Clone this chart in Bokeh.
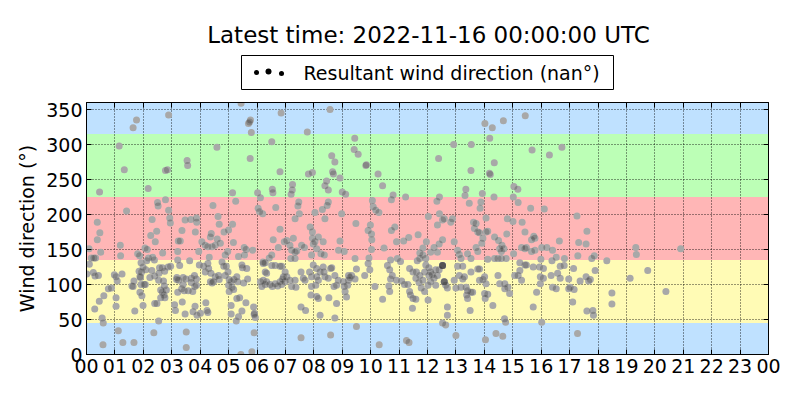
from bokeh.plotting import figure
from bokeh.layouts import column
from bokeh.models import (BoxAnnotation, FixedTicker, LinearAxis, Range1d,
                          ColumnDataSource, CustomJSTickFormatter)
from bokeh.core.properties import value
from bokeh.embed import file_html
from bokeh.resources import INLINE

# ---- data: (hour of day, wind direction in degrees) ----
obs_00_04 = [(1.76,335),(1.64,324),(2.89,342),(1.15,298),(1.33,264),(2.78,263),(2.85,264),(3.54,277),(3.56,270),(0.46,232),(2.17,237),(2.50,217),(2.52,212),(2.78,221),(1.41,205),(2.89,206),(2.93,195),(2.95,188),(0.38,189),(0.47,174),(0.38,164),(2.31,193),(2.47,176),(2.26,170),(2.42,161),(3.47,192),(3.67,193),(3.87,195),(3.88,189),(3.36,177),(3.83,175),(3.23,162),(3.30,162),(1.19,156),(2.06,152),(2.14,150),(1.80,144),(1.87,141),(2.68,145),(3.21,147),(0.50,146),(0.09,151),(1.20,141),(0.26,138),(0.32,138),(0.17,138),(2.39,135),(2.18,138),(2.33,139),(2.12,134),(3.21,135),(3.63,134),(3.28,127),(2.67,124),(2.96,126),(2.87,125),(1.92,131),(1.99,125),(2.09,121),(0.10,129),(0.24,117),(0.01,115),(0.30,112),(0.42,113),(0.98,114),(1.04,111),(1.08,105),(1.85,119),(1.94,118),(1.88,111),(2.30,120),(2.23,110),(2.40,112),(2.57,124),(2.75,119),(2.55,116),(1.90,110),(1.92,100),(2.03,100),(2.07,100),(1.60,98),(1.64,97),(1.67,105),(2.54,106),(2.71,105),(2.74,98),(2.61,92),(2.67,89),(2.81,92),(2.73,85),(2.76,81),(2.61,81),(2.48,73),(2.40,73),(1.99,70),(1.70,62),(2.54,48),(3.17,107),(3.24,106),(3.40,100),(3.35,94),(3.44,91),(3.58,91),(3.74,90),(3.18,110),(3.40,110),(3.50,108),(3.69,109),(3.80,113),(3.87,108),(3.87,99),(3.81,97),(3.69,103),(3.21,89),(3.10,71),(3.13,63),(3.37,75),(3.47,58),(3.75,61),(3.82,69),(3.89,56),(0.88,95),(0.77,94),(0.61,84),(0.45,76),(0.29,65),(0.55,52),(0.59,45),(1.04,69),(1.04,81),(1.88,89),(1.95,84),(1.25,115),(1.12,34),(2.37,31),(3.51,32),(0.58,14),(1.28,17),(1.67,17),(3.51,10)]

obs_04_08 = [(5.44,359),(5.70,330),(5.77,335),(5.74,332),(5.80,317),(6.85,345),(7.77,318),(4.59,296),(5.76,280),(6.52,304),(6.81,261),(7.81,258),(7.95,260),(5.14,231),(6.02,231),(6.54,236),(6.56,231),(7.25,243),(7.24,235),(7.20,229),(4.45,213),(5.25,219),(6.12,224),(6.04,209),(6.09,204),(6.20,201),(6.66,210),(7.47,218),(7.44,212),(7.49,201),(7.34,194),(4.63,197),(4.67,186),(4.84,175),(5.00,178),(5.14,186),(4.39,173),(4.36,168),(4.06,161),(4.18,156),(4.27,154),(4.42,154),(4.53,156),(4.60,165),(4.71,159),(5.17,160),(5.55,153),(5.62,150),(5.85,149),(6.57,164),(6.81,179),(6.75,153),(6.96,161),(7.05,163),(7.16,156),(7.28,166),(7.87,182),(7.95,175),(7.95,166),(7.57,156),(7.67,153),(7.98,158),(3.95,147),(4.97,147),(4.88,142),(5.35,140),(5.56,142),(6.52,142),(6.43,138),(6.21,132),(6.29,131),(7.22,149),(7.34,146),(7.40,148),(7.34,137),(7.19,137),(3.97,128),(4.12,126),(4.27,130),(4.32,139),(4.18,118),(4.30,123),(4.38,116),(4.53,111),(4.65,113),(4.67,107),(4.47,104),(4.36,104),(4.42,102),(4.77,132),(4.83,126),(4.92,126),(4.98,118),(4.88,113),(5.02,107),(5.09,104),(5.19,107),(5.29,111),(5.32,104),(5.47,128),(5.49,124),(5.64,123),(5.67,108),(5.53,102),(5.00,99),(5.12,96),(5.18,93),(5.02,90),(5.29,80),(5.39,81),(5.47,62),(5.61,74),(5.09,70),(5.09,58),(5.35,54),(5.27,48),(5.88,68),(5.91,59),(5.94,53),(5.90,57),(4.01,59),(4.20,74),(4.24,63),(4.27,60),(6.12,104),(6.22,106),(6.34,104),(6.46,100),(6.54,97),(6.64,101),(6.73,98),(6.81,104),(6.87,100),(6.29,100),(6.17,97),(6.22,130),(6.29,118),(6.34,116),(6.52,127),(6.64,127),(6.81,126),(6.87,126),(6.99,118),(7.05,111),(6.93,111),(6.90,108),(6.99,104),(7.16,106),(7.22,97),(7.34,106),(7.37,96),(7.55,118),(7.63,109),(7.69,106),(7.85,118),(7.92,111),(7.92,97),(7.90,85),(7.55,68),(7.71,63),(5.90,31),(7.55,24),(5.43,0),(5.82,4)]

obs_08_12 = [(8.57,350),(9.44,309),(9.42,293),(9.56,286),(8.63,284),(8.74,275),(9.85,271),(9.83,270),(10.26,258),(8.66,261),(8.69,258),(8.92,252),(8.45,248),(8.39,241),(8.51,235),(10.42,241),(9.00,232),(9.12,229),(10.79,228),(10.73,221),(11.23,225),(10.06,220),(10.09,211),(10.18,206),(10.29,203),(8.51,218),(8.47,213),(8.30,207),(8.04,203),(8.39,194),(8.98,201),(9.48,187),(9.99,185),(9.91,177),(10.03,172),(10.04,164),(10.73,177),(10.85,182),(10.91,161),(11.16,162),(11.34,167),(11.67,171),(12.03,197),(11.96,161),(11.84,152),(8.16,168),(8.04,161),(8.33,161),(8.92,162),(8.10,151),(8.25,144),(8.37,142),(7.92,142),(8.87,149),(9.07,147),(10.03,150),(10.47,152),(11.73,145),(11.84,142),(11.73,137),(11.64,134),(7.98,128),(8.10,123),(8.33,125),(8.22,118),(8.36,118),(8.39,111),(8.51,109),(8.59,123),(8.63,124),(8.10,111),(8.16,106),(8.07,99),(8.74,113),(8.86,106),(8.80,99),(8.71,97),(9.04,104),(9.07,97),(9.22,113),(9.27,110),(9.33,113),(9.45,108),(9.22,106),(9.19,99),(9.10,90),(9.15,82),(9.45,137),(9.50,122),(9.79,113),(9.91,130),(9.97,121),(9.94,138),(10.15,97),(10.59,127),(10.67,121),(10.70,135),(10.94,137),(11.05,133),(10.76,113),(10.70,108),(10.91,106),(10.64,98),(10.67,90),(10.42,79),(11.09,105),(11.19,100),(11.31,100),(11.37,90),(11.40,85),(11.49,80),(11.59,79),(11.47,66),(11.37,123),(11.49,118),(11.61,118),(11.73,113),(11.90,118),(11.84,106),(11.59,109),(11.70,103),(11.78,95),(11.90,90),(12.02,99),(12.02,78),(8.10,83),(8.16,80),(8.53,81),(8.80,73),(8.22,56),(8.74,52),(9.50,40),(8.59,28),(10.30,14),(11.26,20),(11.35,17)]

obs_12_16 = [(14.02,330),(14.28,324),(14.67,334),(15.44,341),(12.92,300),(13.54,300),(14.19,309),(15.68,292),(12.39,280),(14.35,274),(13.53,263),(14.18,259),(14.21,257),(13.35,236),(13.32,227),(13.93,230),(14.34,225),(15.04,240),(15.18,236),(15.02,225),(12.42,225),(12.33,219),(13.47,216),(13.88,218),(13.85,209),(14.06,195),(15.19,217),(15.63,209),(12.42,201),(12.35,185),(12.53,192),(12.59,194),(12.82,189),(12.88,194),(13.62,189),(13.71,187),(13.65,180),(13.77,175),(13.83,174),(14.06,175),(14.12,176),(13.95,166),(13.91,159),(14.81,194),(15.01,190),(15.33,189),(15.43,175),(15.74,169),(15.66,164),(15.78,166),(14.36,168),(14.50,163),(14.62,156),(14.54,151),(14.60,147),(14.69,151),(14.79,172),(15.31,153),(15.43,151),(15.48,153),(15.66,147),(15.78,149),(16.02,153),(15.99,136),(11.94,137),(12.11,146),(12.23,153),(12.35,146),(12.41,158),(12.53,164),(12.94,161),(13.06,149),(13.12,143),(13.18,137),(13.41,144),(13.53,137),(13.71,153),(13.77,147),(14.12,136),(14.36,137),(14.48,137),(14.60,137),(14.77,137),(15.03,144),(15.25,131),(11.94,128),(12.05,124),(12.11,118),(12.17,114),(12.29,121),(12.41,121),(12.53,127),(12.53,127),(12.53,127),(12.53,127),(12.35,113),(12.23,109),(12.05,113),(12.11,104),(12.59,104),(12.59,104),(12.59,104),(12.64,99),(12.70,95),(12.29,99),(13.06,126),(13.24,126),(13.12,113),(13.24,108),(13.30,111),(12.94,106),(13.00,95),(13.18,96),(13.36,96),(13.41,91),(13.53,89),(13.38,85),(13.41,80),(13.59,89),(13.53,118),(13.77,122),(13.83,122),(14.01,111),(13.95,107),(14.06,101),(13.83,106),(14.01,87),(14.12,86),(14.03,80),(14.30,70),(14.48,113),(14.54,101),(14.72,101),(14.83,96),(14.89,87),(14.72,94),(15.07,113),(15.25,120),(15.19,113),(15.43,128),(15.48,128),(15.31,106),(15.72,125),(15.94,125),(16.08,123),(16.08,109),(15.84,89),(15.72,68),(16.02,46),(12.70,68),(12.70,56),(12.53,45),(12.64,42),(13.50,63),(14.71,51),(14.75,46),(13.00,27),(14.04,21),(14.41,30),(14.65,26)]

obs_16_24 = [(16.73,296),(16.29,285),(16.11,208),(17.26,198),(17.61,176),(16.64,162),(17.32,160),(17.58,158),(16.20,153),(16.40,149),(16.53,139),(16.82,137),(17.29,141),(17.78,137),(17.87,141),(18.31,134),(19.33,153),(19.35,143),(16.38,134),(16.67,126),(16.81,127),(17.14,123),(17.90,120),(19.75,120),(15.97,111),(16.35,113),(16.58,116),(16.67,109),(16.97,108),(17.37,105),(17.67,105),(17.73,107),(17.58,111),(19.13,109),(16.40,96),(16.53,94),(16.97,94),(17.02,96),(17.16,93),(18.49,88),(17.11,75),(18.49,72),(15.97,101),(17.61,62),(17.82,63),(17.84,56),(17.28,30),(20.91,151),(20.39,90)]

title_text = "Latest time: 2022-11-16 00:00:00 UTC"
legend_text = "Resultant wind direction (nan°)"
y_axis_title = "Wind direction (°)"

sector_edges = [0, 45, 135, 225, 315, 360]
sector_colors = ["#bfe1ff", "#fffbb5", "#ffb6b6", "#bcffb6", "#bfe1ff"]

x_ticks = list(range(25))
x_tick_labels = ["00", "01", "02", "03", "04", "05", "06", "07", "08", "09", "10", "11",
                 "12", "13", "14", "15", "16", "17", "18", "19", "20", "21", "22", "23", "00"]
y_ticks = [0, 50, 100, 150, 200, 250, 300, 350]

all_obs = obs_00_04 + obs_04_08 + obs_08_12 + obs_12_16 + obs_16_24
src = ColumnDataSource(dict(hour=[o[0] for o in all_obs], direction=[o[1] for o in all_obs]))

FONT = "DejaVu Sans"
W = 784
HEAD_H = 92
FRAME_L, FRAME_R = 86, 768   # pixel extent of the plot frame (header frame is aligned to it)

# ---------------- header: title + legend (pixel-space figure) ----------------
head = figure(width=W, height=HEAD_H, output_backend="svg", toolbar_location=None,
              x_range=Range1d(FRAME_L, FRAME_R), y_range=Range1d(HEAD_H, 0),
              x_axis_type=None, y_axis_type=None,
              min_border=0, min_border_left=FRAME_L, min_border_right=W - FRAME_R,
              min_border_top=0, min_border_bottom=0,
              outline_line_color=None, background_fill_color="white",
              border_fill_color="white")
head.grid.visible = False
head.text(x=[428], y=[34], text=[title_text], text_align="center", text_baseline="middle",
          text_font=value(FONT), text_font_size=value("23px"), text_color="black")
head.quad(left=[241], right=[613], top=[55], bottom=[89], fill_color="white",
          line_color="black", line_width=1)
head.scatter(x=[256, 268, 281], y=[72, 71, 73], size=[5, 6, 5], fill_color="black",
             line_color=None)
head.text(x=[303], y=[72], text=[legend_text], text_align="left", text_baseline="middle",
          text_font=value(FONT), text_font_size=value("19px"), text_color="black")

# ---------------- main plot ----------------
p = figure(width=W, height=384 - HEAD_H, output_backend="svg", toolbar_location=None,
           x_range=Range1d(0, 24), y_range=Range1d(0, 360),
           min_border_left=FRAME_L, min_border_right=W - FRAME_R,
           min_border_top=102 - HEAD_H, min_border_bottom=384 - 354,
           background_fill_color="white", border_fill_color="white",
           outline_line_color="black", outline_line_width=1)

for lo, hi, col in zip(sector_edges[:-1], sector_edges[1:], sector_colors):
    p.add_layout(BoxAnnotation(bottom=lo, top=hi, fill_color=col, fill_alpha=1.0,
                               line_alpha=0, level="image"))

# points: light grey base + translucent dark overlay so overlaps darken
p.scatter("hour", "direction", source=src, size=7, fill_color="#d2d2d2", line_color=None)
p.scatter("hour", "direction", source=src, size=7, fill_color="black", fill_alpha=0.2,
          line_color=None)

blank = CustomJSTickFormatter(code="return ''")

def style_axis(ax, ticks, show_labels):
    ax.ticker = FixedTicker(ticks=ticks)
    ax.major_tick_in = 5
    ax.major_tick_out = 0
    ax.minor_tick_in = 0
    ax.minor_tick_out = 0
    ax.axis_line_color = "black"
    ax.major_tick_line_color = "black"
    ax.major_label_text_font = FONT
    ax.major_label_text_font_size = "19px"
    ax.major_label_text_color = "black"
    ax.major_label_standoff = 4 if show_labels else 0
    if not show_labels:
        ax.formatter = blank

style_axis(p.xaxis[0], x_ticks, True)
p.xaxis[0].major_label_overrides = dict(zip(x_ticks, x_tick_labels))
style_axis(p.yaxis[0], y_ticks, True)
p.yaxis[0].axis_label = y_axis_title
p.yaxis[0].axis_label_text_font = FONT
p.yaxis[0].axis_label_text_font_size = "19px"
p.yaxis[0].axis_label_text_font_style = "normal"
p.yaxis[0].axis_label_text_color = "black"
p.yaxis[0].axis_label_standoff = 5

top_ax = LinearAxis()
style_axis(top_ax, x_ticks, False)
p.add_layout(top_ax, "above")
right_ax = LinearAxis()
style_axis(right_ax, y_ticks, False)
p.add_layout(right_ax, "right")

for g, ticks in ((p.xgrid[0], x_ticks), (p.ygrid[0], y_ticks)):
    g.ticker = FixedTicker(ticks=ticks)
    g.grid_line_color = "black"
    g.grid_line_alpha = 0.8
    g.grid_line_dash = "1 2"
    g.grid_line_width = 1

layout = column(head, p, spacing=0)
open("out.html", "w").write(file_html(layout, INLINE))
